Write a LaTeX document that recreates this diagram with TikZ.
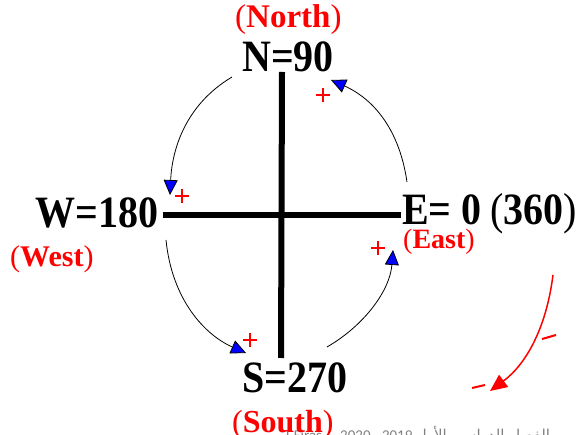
\documentclass[tikz,border=0pt]{standalone}
\usepackage{fontspec}
\setmainfont{Liberation Serif}
\newfontfamily\arabicfont[Script=Arabic]{DejaVu Sans}
\newfontfamily\footfont{Carlito}
\TeXXeTstate=1
\usetikzlibrary{arrows.meta}
\newcommand{\tallbox}[1]{\scalebox{1}[1.12]{#1}}
\begin{document}
\begin{tikzpicture}[x=1pt,y=-1pt,
  lbl/.style={inner sep=0pt, anchor=base west, font=\fontsize{40}{44}\selectfont\bfseries},
  redlbl/.style={inner sep=0pt, anchor=base west, text=red},
  bar/.style={line width=6pt},
  arcline/.style={line width=0.8pt, -{Triangle[length=15pt,width=14pt,fill=blue]}},
  redarrow/.style={red, line width=1.5pt, -{Triangle[length=17pt,width=15pt]}},
  pls/.pic={\draw[red, line width=2pt] (-7,0) -- (7,0) (0,-7) -- (0,7);}]
\useasboundingbox (0,0) rectangle (576,435);
\clip (0,0) rectangle (576,435);

% footer (partly cut)
\node[anchor=base west, inner sep=0pt, text=gray, font=\footfont\fontsize{15}{17}\selectfont] (ft) at (284,441)
  {\beginL T.Firas \ - \ 2020 - 2019\endL\ {\arabicfont\beginR الفصل الدراسي الأول\endR}};

% labels
\node[lbl] (n) at (242,72) {\tallbox{N=90}};
\node[lbl] (w) at (35,228) {\tallbox{W=180}};
\node[lbl] (e) at (402,225) {\tallbox{E= 0}};
\node[lbl] (e2) at (490,225) {\tallbox{{\mdseries (}360{\mdseries )}}};
\node[lbl] (s) at (242,393) {\tallbox{S=270}};

\node[redlbl, font=\fontsize{33}{36}\selectfont] (north) at (235,28) {(\textbf{North})};
\node[redlbl, font=\fontsize{30}{33}\selectfont] (west) at (10,267) {(\textbf{West})};
\node[redlbl, font=\fontsize{28}{30}\selectfont] (east) at (403,249) {(\textbf{East})};
\node[redlbl, font=\fontsize{32}{35}\selectfont] (south) at (232,433) {(\textbf{South})};

% axes
\coordinate (vt) at (282,72);
\coordinate (vb) at (281,358);
\coordinate (hl) at (163,215);
\coordinate (hr) at (401,215);
\draw[bar] (vt) -- (vb);
\draw[bar] (hl) -- (hr);

% curved arrows
\coordinate (a1s) at (232,77);  \coordinate (a1e) at (170,195);
\coordinate (a2s) at (407,182); \coordinate (a2e) at (331,80);
\coordinate (a3s) at (166,240); \coordinate (a3e) at (246,353);
\coordinate (a4s) at (327,347); \coordinate (a4e) at (393,250);
\draw[arcline] (a1s) .. controls (185,105) and (172,150) .. (a1e);
\draw[arcline] (a2s) .. controls (398,120) and (365,95) .. (a2e);
\draw[arcline] (a3s) .. controls (172,300) and (205,335) .. (a3e);
\draw[arcline] (a4s) .. controls (365,325) and (390,290) .. (a4e);

% red plus marks
\pic at (182,196) {pls};
\pic at (323,95) {pls};
\pic at (250,340) {pls};
\pic at (378,248) {pls};

% red hand-drawn arrow
\coordinate (rs) at (553,275);
\coordinate (re) at (490,391);
\draw[redarrow] (rs) .. controls (546,330) and (525,365) .. (re);
\draw[red, line width=2pt] (542,339) -- (556,335);
\draw[red, line width=2pt] (472,388) -- (485,385);
\end{tikzpicture}
\end{document}
